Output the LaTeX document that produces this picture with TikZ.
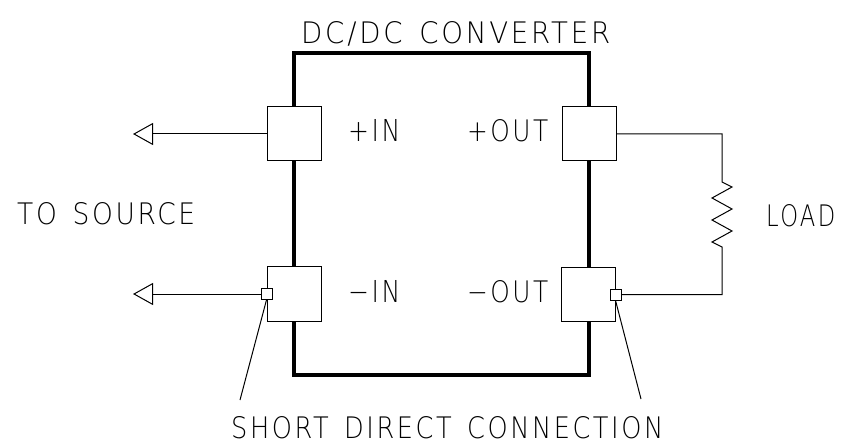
\documentclass[tikz,border=0pt]{standalone}
\usepackage{graphicx}
\usepackage{fontspec}
\newfontfamily\cad{DejaVu Sans ExtraLight}[LetterSpace=10]
\usetikzlibrary{arrows.meta}
\newcommand\cadtxt[2]{\resizebox{#1}{22pt}{\cad #2}}
\begin{document}
\begin{tikzpicture}[x=1pt,y=-1pt,
  wire/.style={line width=1pt, line join=miter},
  frame/.style={line width=4pt},
  term/.style={draw, fill=white, line width=1pt, minimum size=54pt, inner sep=0pt},
  tinybox/.style={draw, fill=white, line width=0.8pt, minimum size=11pt, inner sep=0pt},
  lbl/.style={inner sep=0pt, anchor=base west},
  tip/.style={-{Triangle[open,length=20pt,width=22pt,line width=1pt]}}
]
\useasboundingbox (0,0) rectangle (842,443);
% converter frame
\draw[frame] (294,53) rectangle (589,375);
% terminals
\node[term] (inp) at (294,134) {};
\node[term] (inm) at (294,294) {};
\node[term] (outp) at (589,134) {};
\node[term] (outm) at (588,294.5) {};
% free ends
\coordinate (srcp) at (133,134);
\coordinate (srcm) at (133,294);
\coordinate (rtop) at (722,134);
\coordinate (rzs) at (722,182);
\coordinate (rze) at (722,247);
\coordinate (rbot) at (722,294.5);
\coordinate (ll) at (240,400);
\coordinate (lr) at (641,399);
% source wires
\draw[wire, tip] (inp.west) -- (srcp);
\draw[wire, tip] (inm.west) -- (srcm);
% load wire with resistor
\draw[wire] (outp.east) -- (rtop) -- (rzs) -- ++(10,5) -- ++(-20,11) -- ++(20,11)
  -- ++(-20,11) -- ++(20,11) -- ++(-20,11) -- (rze) -- (rbot) -- (outm.east);
% short direct connection points
\node[tinybox] (sl) at (inm.west) {};
\node[tinybox] (sr) at (outm.east) {};
\draw[wire] (sl.south) -- (ll);
\draw[wire] (sr.south) -- (lr);
% labels
\node[lbl] (title) at (301,44) {\cadtxt{309pt}{DC/DC\hspace{.6em}CONVERTER}};
\node[lbl] (src) at (17,225) {\cadtxt{178pt}{TO\hspace{.6em}SOURCE}};
\node[lbl] (load) at (766,227) {\cadtxt{69pt}{LOAD}};
\node[lbl] (lpin) at (348,142) {\cadtxt{52pt}{+IN}};
\node[lbl] (lpout) at (467,142) {\cadtxt{81pt}{+OUT}};
\node[lbl] (lmin) at (348,302) {\cadtxt{52pt}{−IN}};
\node[lbl] (lmout) at (467,302) {\cadtxt{81pt}{−OUT}};
\node[lbl] (short) at (231,438) {\cadtxt{432pt}{SHORT\hspace{.6em}DIRECT\hspace{.6em}CONNECTION}};
\end{tikzpicture}
\end{document}
